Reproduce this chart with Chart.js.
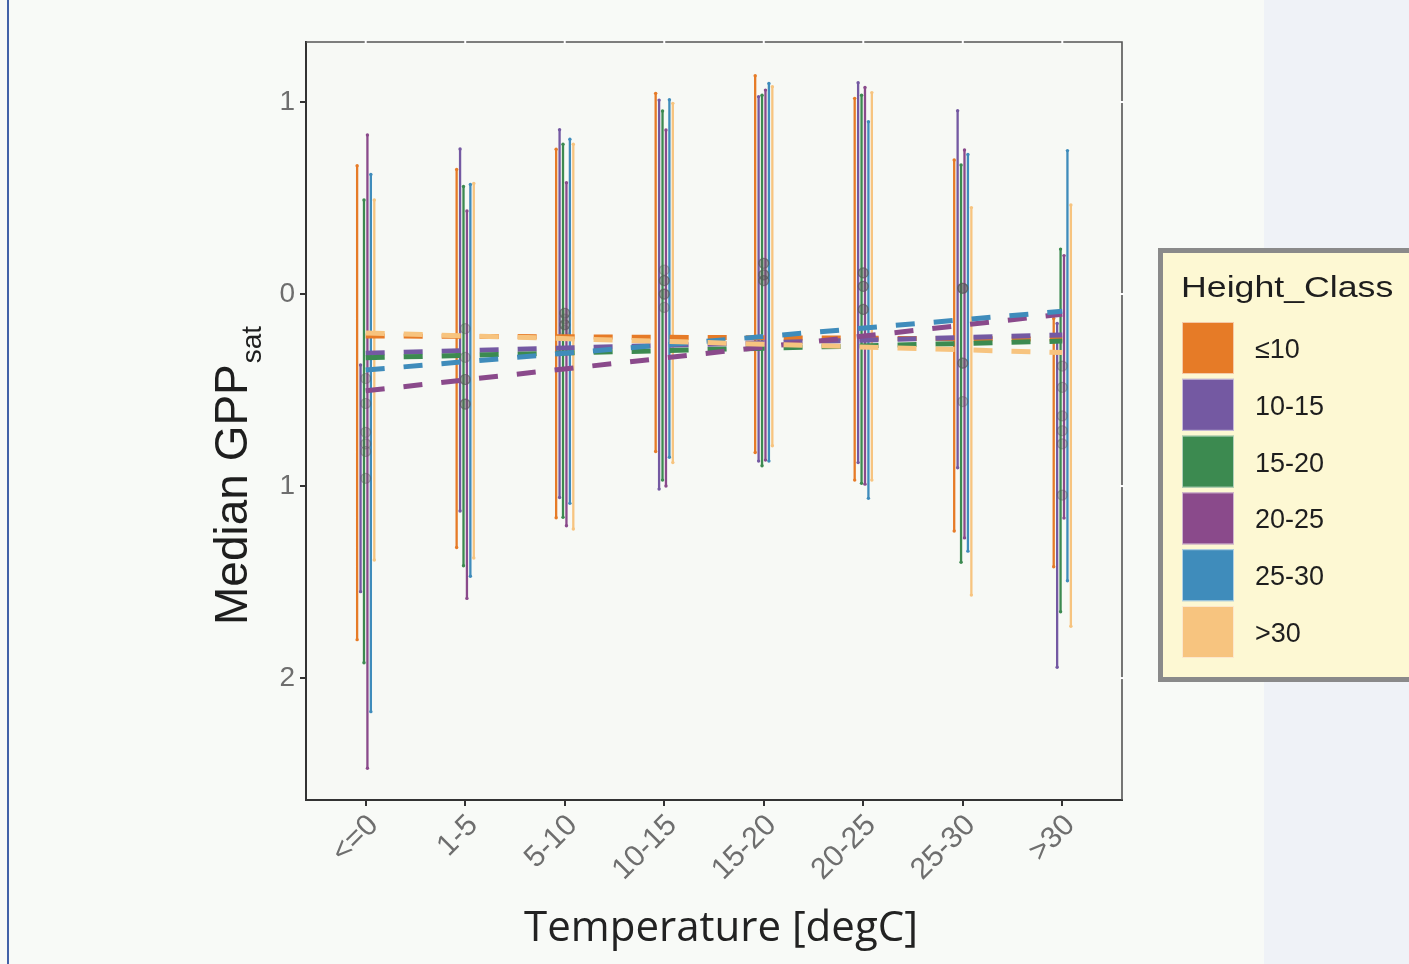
<!DOCTYPE html>
<html><head><meta charset="utf-8">
<script src="https://cdn.jsdelivr.net/npm/chart.js@4.4.0/dist/chart.umd.min.js"></script>
<style>html,body{margin:0;padding:0;background:#F8FAF7;}canvas{display:block;}</style>
</head><body>
<canvas id="c" width="1409" height="964"></canvas>
<script>
// ---------- data ----------
const categories = ['<=0','1-5','5-10','10-15','15-20','20-25','25-30','>30'];
const heightClasses = ['≤10','10-15','15-20','20-25','25-30','>30'];
const classColors = ['#E67B27','#7459A2','#3C8A50','#8A4A8B','#3F8CBB','#F7C47F'];
const yTickValues = [1,0,-1,-2];
const yTickLabels = ['1','0','1','2'];

// error bar upper / lower ends per height class (one value per temperature category)
const upper_le10  = [0.668,0.649,0.754,1.045,1.137,1.019,0.698,-0.127];
const lower_le10  = [-1.80,-1.32,-1.165,-0.82,-0.825,-0.969,-1.234,-1.42];
const upper_10_15 = [-0.37,0.755,0.856,1.01,1.028,1.10,0.955,-0.153];
const lower_10_15 = [-1.55,-1.13,-1.06,-1.016,-0.87,-0.878,-0.905,-1.944];
const upper_15_20 = [0.49,0.56,0.78,0.953,1.035,1.035,0.672,0.234];
const lower_15_20 = [-1.92,-1.415,-1.163,-0.969,-0.894,-0.986,-1.397,-1.655];
const upper_20_25 = [0.828,0.432,0.58,0.854,1.062,1.076,0.75,0.20];
const lower_20_25 = [-2.47,-1.585,-1.207,-1.0,-0.865,-0.99,-1.27,-1.167];
const upper_25_30 = [0.623,0.571,0.806,1.012,1.097,0.897,0.727,0.747];
const lower_25_30 = [-2.175,-1.47,-1.09,-0.85,-0.87,-1.064,-1.339,-1.493];
const upper_gt30  = [0.49,0.576,0.78,0.993,1.08,1.049,0.45,0.464];
const lower_gt30  = [-1.385,-1.375,-1.224,-0.878,-0.79,-0.969,-1.568,-1.73];

// medians per height class
const median_le10  = [-0.57,-0.18,-0.10,0.125,0.16,0.11,0.03,-0.375];
const median_10_15 = [-0.72,-0.33,-0.10,0.07,0.10,0.11,0.03,-0.486];
const median_15_20 = [-0.82,-0.445,-0.16,0.07,0.10,0.04,-0.36,-0.635];
const median_20_25 = [-0.96,-0.445,-0.16,0.0,0.07,0.04,-0.36,-0.712];
const median_25_30 = [-0.78,-0.573,-0.19,0.0,0.07,-0.08,-0.56,-0.78];
const median_gt30  = [-0.44,-0.573,-0.13,-0.07,0.16,-0.08,0.03,-1.047];

// dashed trend lines: value at first and at last temperature category
const trendStart = [-0.218,-0.309,-0.332,-0.504,-0.396,-0.203];
const trendEnd   = [-0.235,-0.213,-0.245,-0.105,-0.090,-0.305];

// ---------- build ----------
const uppers = [upper_le10,upper_10_15,upper_15_20,upper_20_25,upper_25_30,upper_gt30];
const lowers = [lower_le10,lower_10_15,lower_15_20,lower_20_25,lower_25_30,lower_gt30];
const medians = [median_le10,median_10_15,median_15_20,median_20_25,median_25_30,median_gt30];
const nC = heightClasses.length;
const dodge = 0.0345;

const datasets = [];
heightClasses.forEach((hc,i)=>{
  datasets.push({
    type:'line', label: hc+' trend',
    data:[{x:0,y:trendStart[i]},{x:categories.length-1,y:trendEnd[i]}],
    borderColor: classColors[i], borderWidth:5, borderDash:[19,19],
    pointRadius:0, fill:false, order: nC-1-i
  });
});
heightClasses.forEach((hc,i)=>{
  datasets.push({
    type:'line', label: hc+' median', showLine:false,
    data: categories.map((c,g)=>({x:g,y:medians[i][g]})),
    pointRadius:5, pointBackgroundColor:'rgba(90,90,90,0.26)',
    pointBorderColor:'rgba(90,90,90,0.40)', pointBorderWidth:1.2, order: 10
  });
});
heightClasses.forEach((hc,i)=>{
  const off = (i-(nC-1)/2)*dodge;
  const pts = [];
  categories.forEach((c,g)=>{
    pts.push({x:g+off,y:uppers[i][g]},{x:g+off,y:lowers[i][g]},{x:g+off,y:null});
  });
  datasets.push({
    type:'line', label: hc, data: pts, spanGaps:false,
    borderColor: classColors[i], borderWidth:2.3,
    pointRadius:1.7, pointBackgroundColor: classColors[i], pointBorderWidth:0,
    fill:false, order: 20+(nC-1-i)
  });
});

const bgPlugin = {
  id:'bg',
  beforeDraw(chart){
    const ctx = chart.ctx, ca = chart.chartArea;
    ctx.save();
    ctx.fillStyle = '#F8FAF7';
    ctx.fillRect(0,0,chart.width,chart.height);
    ctx.fillStyle = '#EFF2F7';
    ctx.fillRect(1264,0,chart.width-1264,chart.height);
    ctx.fillStyle = '#4262A8';
    ctx.fillRect(7,0,2,chart.height);
    ctx.fillStyle = '#F7F9F5';
    ctx.fillRect(ca.left,ca.top,ca.right-ca.left,ca.bottom-ca.top);
    ctx.restore();
  },
  afterDraw(chart){
    const ctx = chart.ctx, ca = chart.chartArea;
    const xs = chart.scales.x, ys = chart.scales.y;
    ctx.save();
    // top & right frame
    ctx.strokeStyle = '#555'; ctx.lineWidth = 1.6;
    ctx.beginPath();
    ctx.moveTo(ca.left, ca.top); ctx.lineTo(ca.right, ca.top); ctx.lineTo(ca.right, ca.bottom);
    ctx.stroke();
    // white grid notches
    ctx.fillStyle = '#FFFFFF';
    categories.forEach((c,g)=>{ const px = xs.getPixelForValue(g); ctx.fillRect(px-1, ca.top-2, 2, 4); });
    yTickValues.forEach(v=>{ const py = ys.getPixelForValue(v); ctx.fillRect(ca.right-2, py-1, 4, 2); });

    // y title with subscript
    ctx.fillStyle = '#1E1E1E';
    ctx.translate(247, 625);
    ctx.rotate(-Math.PI/2);
    ctx.font = '46px "Liberation Sans", Arial, sans-serif';
    ctx.textAlign = 'left'; ctx.textBaseline = 'alphabetic';
    ctx.fillText('Median GPP', 0, 0);
    const w = ctx.measureText('Median GPP').width;
    ctx.font = '28px "Liberation Sans", Arial, sans-serif';
    ctx.fillText('sat', w+1, 14);
    ctx.setTransform(1,0,0,1,0,0);

    // x title
    ctx.font = '42px "Open Sans", sans-serif';
    ctx.textAlign = 'center';
    ctx.fillStyle = '#222';
    ctx.fillText('Temperature [degC]', 721, 941);

    // legend
    ctx.fillStyle = '#FDF8D3';
    ctx.fillRect(1160, 250, 260, 430);
    ctx.strokeStyle = '#8A8A8A'; ctx.lineWidth = 5;
    ctx.strokeRect(1160.5, 250.5, 270, 429);
    ctx.fillStyle = '#1E1E1E';
    ctx.textAlign = 'left';
    ctx.save();
    ctx.translate(1181, 297);
    ctx.scale(1.19, 1);
    ctx.font = '30px "Liberation Sans", Arial, sans-serif';
    ctx.fillText('Height_Class', 0, 0);
    ctx.restore();
    heightClasses.forEach((hc,i)=>{
      const y0 = 322 + i*56.8;
      ctx.fillStyle = classColors[i];
      ctx.fillRect(1182, y0, 52, 52);
      ctx.strokeStyle = 'rgba(255,255,255,0.6)'; ctx.lineWidth = 1;
      ctx.strokeRect(1182.5, y0+0.5, 51, 51);
      ctx.fillStyle = '#1E1E1E';
      ctx.font = '27px "Liberation Sans", Arial, sans-serif';
      ctx.fillText(hc, 1255, y0 + 26 + 10);
    });
    ctx.restore();
  }
};

new Chart(document.getElementById('c'), {
  type:'line',
  data:{ datasets },
  options:{
    responsive:false, animation:false, events:[],
    layout:{ padding:{ left:216, top:42, right:287, bottom:44 } },
    plugins:{ legend:{display:false}, tooltip:{enabled:false} },
    scales:{
      x:{
        type:'linear', min:-0.6, max:categories.length-1+0.6,
        afterBuildTicks(s){ s.ticks = categories.map((c,g)=>({value:g})); },
        afterFit(s){ s.height = 120; },
        ticks:{
          autoSkip:false, maxRotation:45, minRotation:45, padding:2, labelOffset:8,
          color:'#6E6E6E', font:{ family:'"Liberation Sans", Arial, sans-serif', size:30 },
          callback:(v)=> categories[Math.round(v)] ?? ''
        },
        grid:{ drawOnChartArea:false, drawTicks:true, tickLength:6, color:'#333', lineWidth:2 },
        border:{ display:true, color:'#333', width:2 }
      },
      y:{
        type:'linear', min:-2.635, max:1.3125,
        afterBuildTicks(s){ s.ticks = yTickValues.map(v=>({value:v})); },
        afterFit(s){ s.width = 90; },
        ticks:{
          padding:5, color:'#6E6E6E', font:{ family:'"Liberation Sans", Arial, sans-serif', size:28 },
          callback:(v)=> yTickLabels[yTickValues.indexOf(v)] ?? ''
        },
        grid:{ drawOnChartArea:false, drawTicks:true, tickLength:6, color:'#333', lineWidth:2 },
        border:{ display:true, color:'#333', width:2 }
      }
    }
  },
  plugins:[bgPlugin]
});
</script>
</body></html>
